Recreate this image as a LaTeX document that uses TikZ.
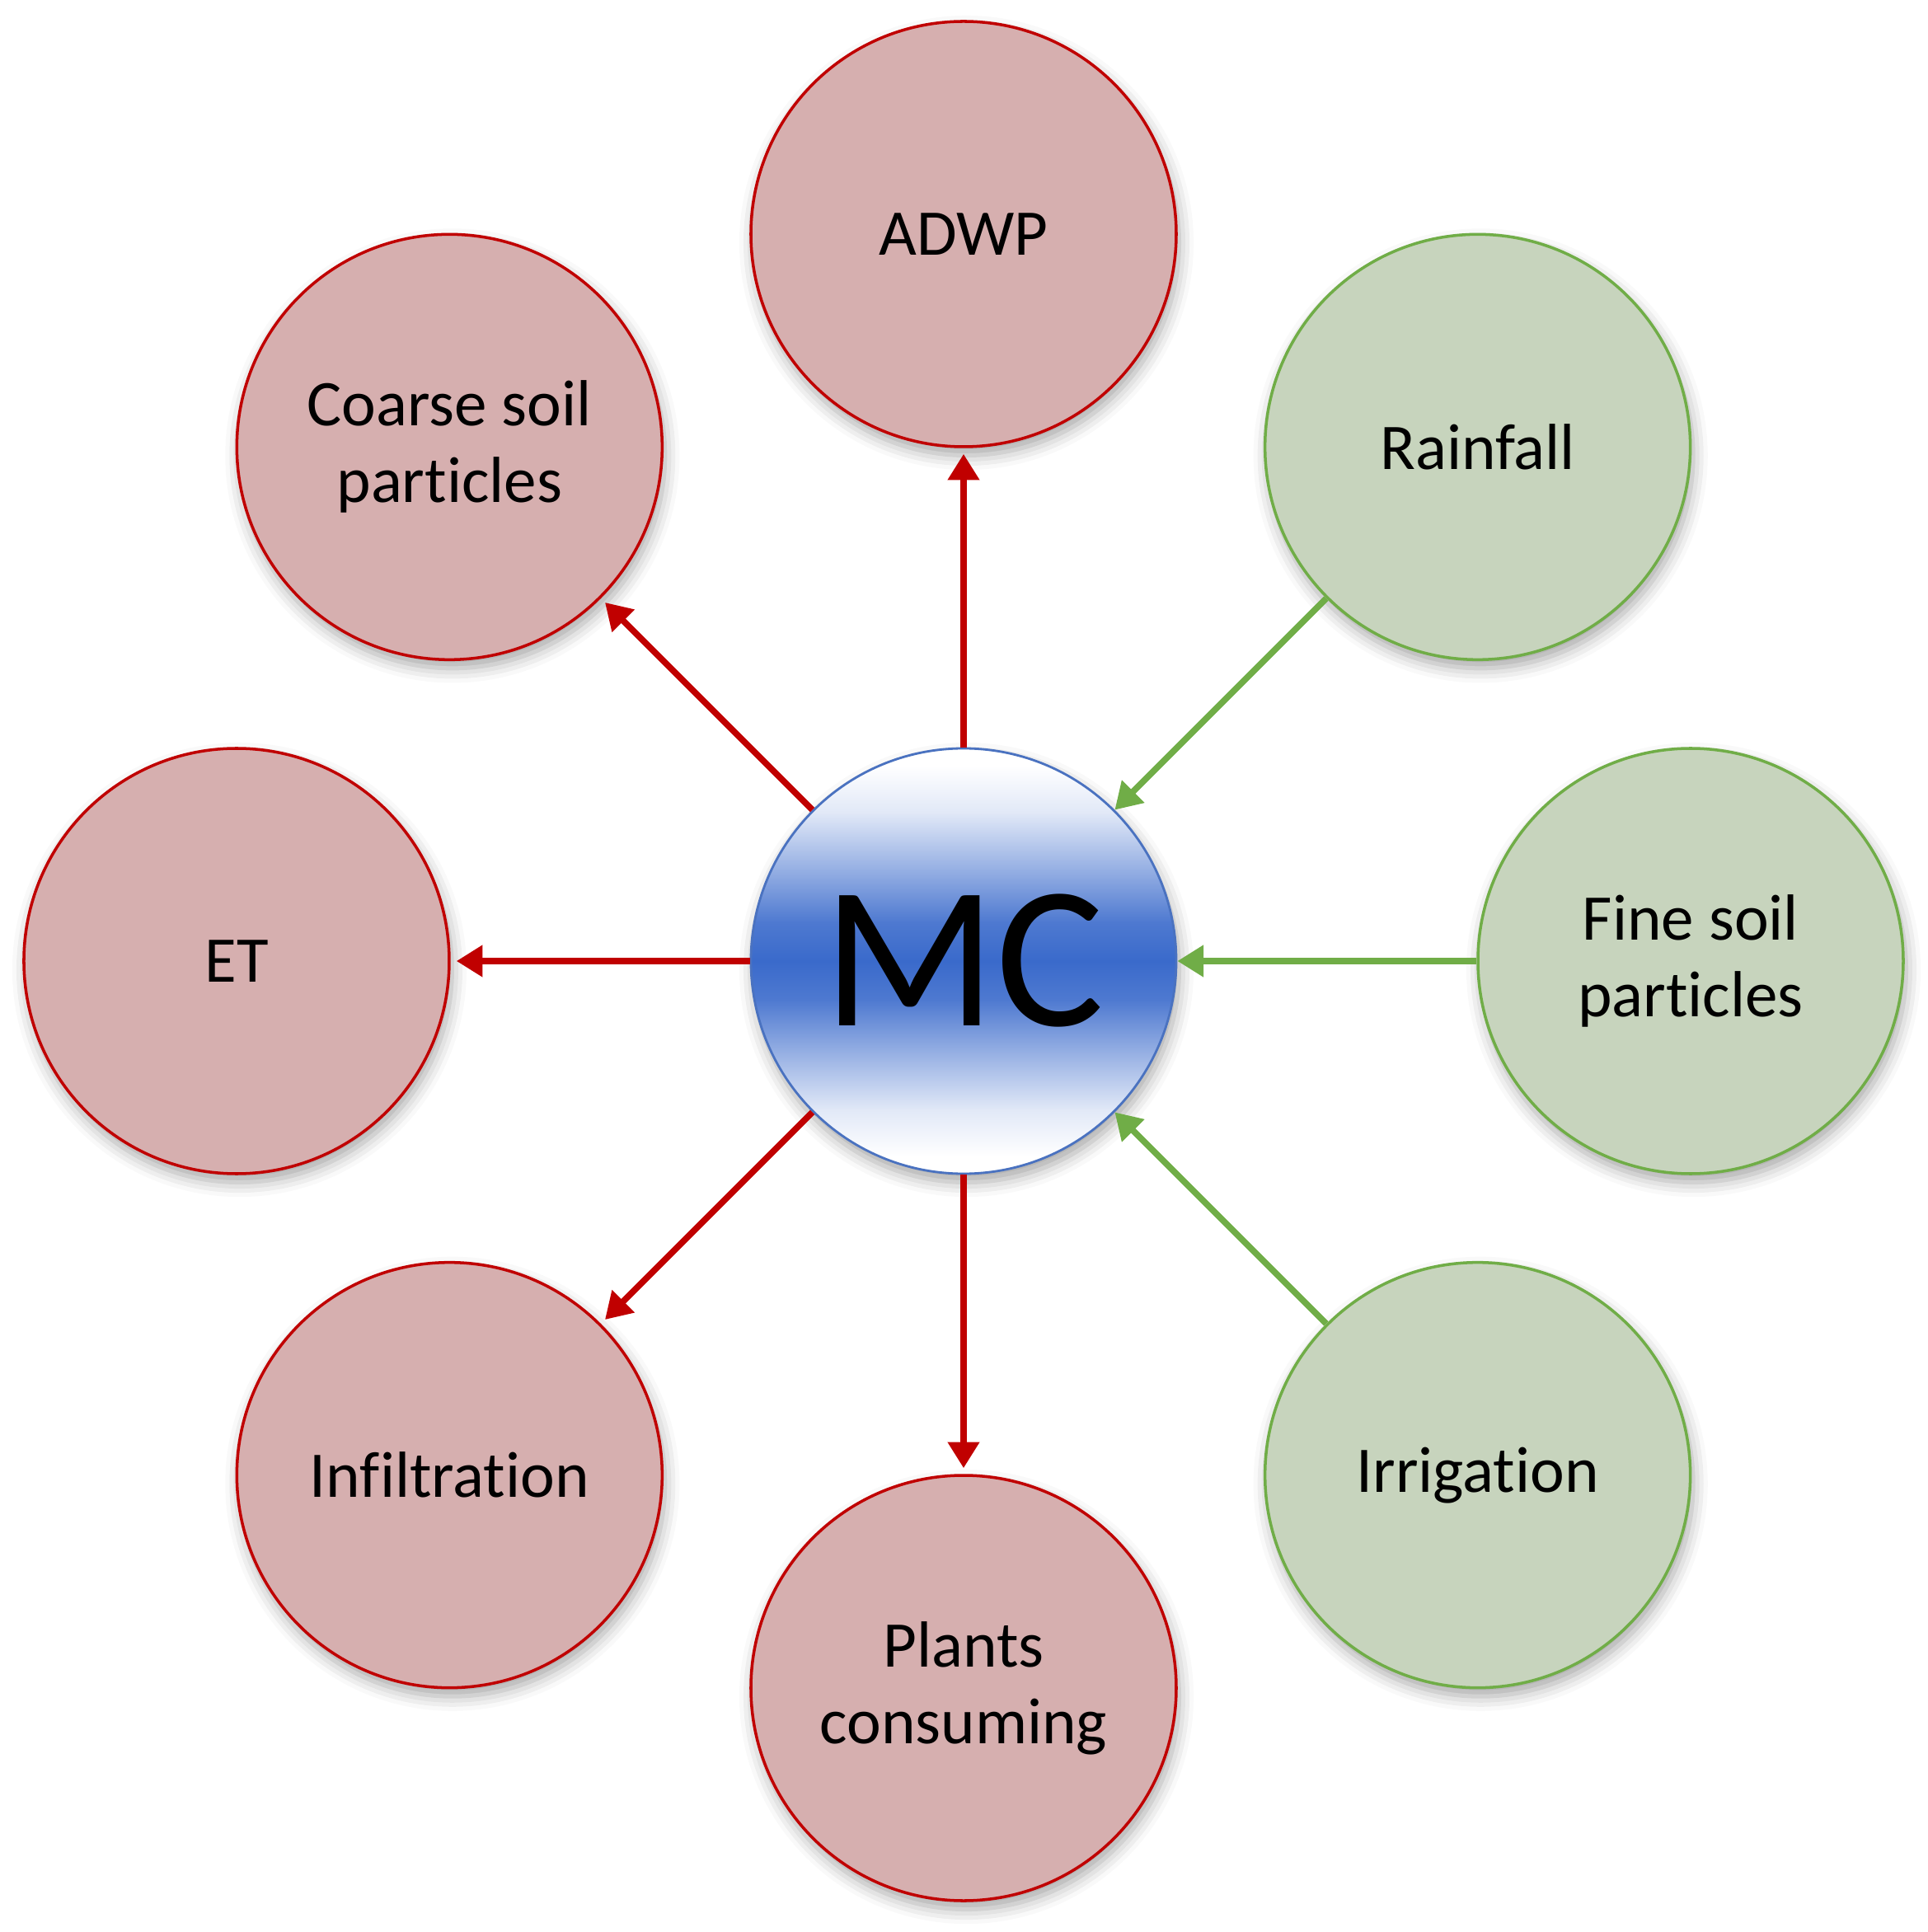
\documentclass[tikz,border=0pt]{standalone}
\usepackage{fontspec}
\setmainfont{Carlito}[Ligatures=NoCommon]
\usetikzlibrary{arrows.meta,shadows.blur}
\definecolor{lossline}{HTML}{C00000}
\definecolor{lossfill}{HTML}{D6AFAF}
\definecolor{gainline}{HTML}{70AD47}
\definecolor{gainfill}{HTML}{C7D4BD}
\definecolor{mcblue}{HTML}{3A6ACB}
\definecolor{mcline}{HTML}{4A72C0}
\pgfdeclareverticalshading{mcshade}{100bp}{%
  color(0bp)=(white); color(27bp)=(white); color(32.5bp)=(mcblue!15);
  color(39.5bp)=(mcblue!55); color(45.5bp)=(mcblue!90); color(50bp)=(mcblue);
  color(54.5bp)=(mcblue!90); color(60.5bp)=(mcblue!55); color(67.5bp)=(mcblue!15);
  color(73bp)=(white); color(100bp)=(white)}
\tikzset{
  ball/.style    = {circle, minimum size=5.16cm, inner sep=0pt, line width=1pt,
                    align=center, font=\fontsize{22.5}{26.5}\selectfont,
                    blur shadow={shadow xshift=1pt, shadow yshift=-3pt,
                                 shadow blur radius=5pt, shadow opacity=35}},
  loss/.style    = {ball, draw=lossline, fill=lossfill},
  gain/.style    = {ball, draw=gainline, fill=gainfill},
  mcball/.style  = {ball, draw=mcline, line width=0.8pt, shading=mcshade,
                    font=\fontsize{70}{80}\selectfont},
  outflow/.style = {draw=lossline, line width=2.2pt,
                    -{Triangle[length=9pt,width=10.5pt]}, shorten >=2pt},
  inflow/.style  = {draw=gainline, line width=2.2pt,
                    -{Triangle[length=9pt,width=10.5pt]}}
}
\begin{document}
\begin{tikzpicture}
  \useasboundingbox (-11.69,-11.78) rectangle (11.70,11.66);

  \node[mcball] (mc) at (0,0) {MC};

  % losses
  \node[loss] (adwp)   at (90:8.82)  {ADWP};
  \node[loss] (coarse) at (135:8.82) {Coarse soil\\particles};
  \node[loss] (et)     at (180:8.82) {ET};
  \node[loss] (infil)  at (225:8.82) {Infiltration};
  \node[loss] (plants) at (270:8.82) {Plants\\consuming};

  % gains
  \node[gain] (rain)   at (45:8.82)  {Rainfall};
  \node[gain] (fine)   at (0:8.82)   {Fine soil\\particles};
  \node[gain] (irrig)  at (-45:8.82) {Irrigation};

  \draw[outflow] (mc) -- (adwp);
  \draw[outflow] (mc) -- (coarse);
  \draw[outflow] (mc) -- (et);
  \draw[outflow] (mc) -- (infil);
  \draw[outflow] (mc) -- (plants);

  \draw[inflow] (rain)  -- (mc);
  \draw[inflow] (fine)  -- (mc);
  \draw[inflow] (irrig) -- (mc);
\end{tikzpicture}
\end{document}
